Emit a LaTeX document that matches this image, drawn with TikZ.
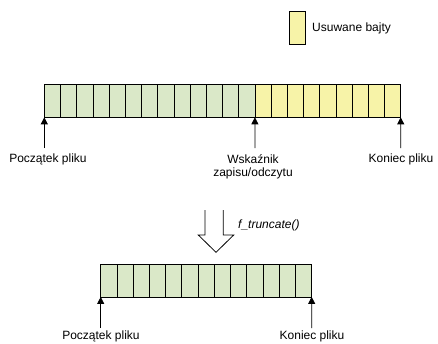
\documentclass[tikz,border=0pt]{standalone}
\usepackage{fontspec}
\setmainfont{Liberation Sans}
\usetikzlibrary{arrows.meta}
\definecolor{cgreen}{HTML}{DAE8C8}
\definecolor{cyellow}{HTML}{F7F3A8}
\begin{document}
\begin{tikzpicture}[x=1pt,y=-1pt,
  cell/.style={draw=black,line width=0.8pt,minimum width=16.2pt,minimum height=32.6pt,inner sep=0pt,outer sep=0pt,anchor=north west},
  gcell/.style={cell,fill=cgreen},
  ycell/.style={cell,fill=cyellow},
  lbl/.style={font=\fontsize{12}{14}\selectfont,align=center,inner sep=0pt},
  ptr/.style={line width=0.8pt,-{Triangle[length=7pt,width=7pt]}}]
\useasboundingbox (0,0) rectangle (438,343);
% legend
\node[draw=black,line width=0.8pt,fill=cyellow,minimum width=16.3pt,minimum height=32.4pt,inner sep=0pt,anchor=north west] (leg) at (289,11.3) {};
\node[lbl,anchor=west] (legt) at (312,28) {Usuwane bajty};
% top row
\foreach \i in {0,...,12} {
  \node[gcell] (t\i) at ({44.3+16.2*\i},84.7) {};
}
\foreach \i in {13,...,21} {
  \node[ycell] (t\i) at ({44.3+16.2*\i},84.7) {};
}
\coordinate (a1) at (44.3,148);
\coordinate (a2) at (254.9,148);
\coordinate (a3) at (400.7,148);
\draw[ptr] (a1) -- (t0.south west);
\draw[ptr] (a2) -- (t12.south east);
\draw[ptr] (a3) -- (t21.south east);
\node[lbl,anchor=north] (l1) at (48,154) {Początek pliku};
\node[lbl,anchor=north] (l2) at (253,154) {Wskaźnik\\[-1pt]zapisu/odczytu};
\node[lbl,anchor=north] (l3) at (401,154) {Koniec pliku};
% big arrow
\coordinate (ba) at (216,210);
\draw[line width=0.8pt,fill=white] (205,210) -- (205,235) -- (198.3,235) -- (216,252.3) -- (233.7,235) -- (223.3,235) -- (223.3,210);
\node[lbl,anchor=west,font=\itshape\fontsize{12}{14}\selectfont] (fn) at (238,225) {f\textbf{\_}truncate()};
% bottom row
\foreach \i in {0,...,12} {
  \node[gcell] (b\i) at ({100.7+16.23*\i},264.3) {};
}
\coordinate (c1) at (100.7,328);
\coordinate (c2) at (311.7,328);
\draw[ptr] (c1) -- (b0.south west);
\draw[ptr] (c2) -- (b12.south east);
\node[lbl,anchor=north] (m1) at (101,331) {Początek pliku};
\node[lbl,anchor=north] (m2) at (312,331) {Koniec pliku};
\end{tikzpicture}
\end{document}
